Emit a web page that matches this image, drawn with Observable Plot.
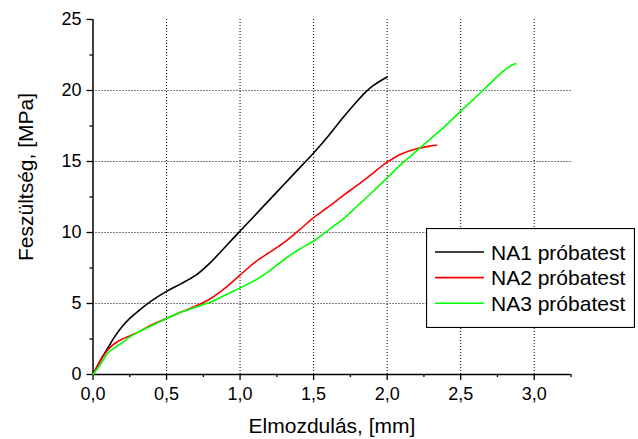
<!DOCTYPE html>
<html>
<head>
<meta charset="utf-8">
<script src="https://cdn.jsdelivr.net/npm/d3@7"></script>
<script src="https://cdn.jsdelivr.net/npm/@observablehq/plot@0.6"></script>
<style>
  html, body { margin: 0; padding: 0; background: #fff; }
  #wrap { position: relative; width: 638px; height: 439px; font-family: "Liberation Sans", Arial, sans-serif; }
  #legend { position: absolute; left: 426px; top: 228px; }
</style>
</head>
<body>
<div id="wrap"><div id="chart"></div><div id="legend"></div></div>
<script>
const seriesNames = ["NA1 próbatest", "NA2 próbatest", "NA3 próbatest"];
const seriesColors = ["#000000", "#ff0000", "#00ff00"];
const xTitle = "Elmozdulás, [mm]";
const yTitle = "Feszültség, [MPa]";
const xTicks = [0, 0.5, 1, 1.5, 2, 2.5, 3];
const xMinorTicks = [0.25, 0.75, 1.25, 1.75, 2.25, 2.75, 3.25];
const yTicks = [0, 5, 10, 15, 20, 25];
const yMinorTicks = [2.5, 7.5, 12.5, 17.5, 22.5];

const na1X = [0, 0.05, 0.1, 0.15, 0.2, 0.25, 0.3, 0.4, 0.5, 0.6, 0.7, 0.8, 0.9, 1.0, 1.1, 1.2, 1.3, 1.4, 1.5, 1.6, 1.7, 1.8, 1.85, 1.9, 1.95, 2.0];
const na1Y = [0, 1.0, 1.85, 2.7, 3.4, 3.95, 4.4, 5.2, 5.85, 6.4, 7.0, 7.9, 9.0, 10.1, 11.2, 12.3, 13.4, 14.5, 15.6, 16.8, 18.1, 19.3, 19.85, 20.3, 20.65, 20.95];

const na2X = [0, 0.05, 0.1, 0.15, 0.2, 0.25, 0.3, 0.4, 0.5, 0.6, 0.7, 0.8, 0.9, 1.0, 1.1, 1.2, 1.3, 1.4, 1.5, 1.6, 1.7, 1.8, 1.9, 2.0, 2.1, 2.2, 2.3, 2.335];
const na2Y = [0, 0.95, 1.72, 2.2, 2.5, 2.72, 2.95, 3.5, 3.95, 4.4, 4.82, 5.35, 6.1, 7.0, 7.9, 8.6, 9.3, 10.15, 11.05, 11.8, 12.6, 13.35, 14.15, 14.95, 15.55, 15.9, 16.1, 16.15];

const na3X = [0, 0.05, 0.1, 0.15, 0.2, 0.25, 0.3, 0.4, 0.5, 0.6, 0.7, 0.8, 0.9, 1.0, 1.1, 1.2, 1.3, 1.4, 1.5, 1.6, 1.7, 1.8, 1.9, 2.0, 2.1, 2.2, 2.3, 2.4, 2.5, 2.6, 2.7, 2.8, 2.85, 2.875];
const na3Y = [0, 0.7, 1.5, 1.9, 2.25, 2.65, 2.95, 3.45, 3.95, 4.4, 4.75, 5.1, 5.6, 6.1, 6.62, 7.3, 8.1, 8.8, 9.4, 10.17, 10.95, 11.9, 12.85, 13.85, 14.85, 15.75, 16.65, 17.55, 18.55, 19.5, 20.5, 21.45, 21.8, 21.88];

const data = [];
[[na1X, na1Y], [na2X, na2Y], [na3X, na3Y]].forEach(([xs, ys], i) => {
  xs.forEach((x, j) => data.push({series: seriesNames[i], x, y: ys[j]}));
});

const fmtX = d => d.toFixed(1).replace(".", ",");

const plot = Plot.plot({
  width: 638,
  height: 439,
  marginLeft: 92.5,
  marginRight: 67.5,
  marginTop: 19,
  marginBottom: 65,
  style: {fontFamily: "'Liberation Sans', Arial, sans-serif", fontSize: "18px", color: "#000", background: "#fff", overflow: "visible"},
  x: {domain: [0, 3.25]},
  y: {domain: [0, 25]},
  color: {domain: seriesNames, range: seriesColors},
  marks: [
    Plot.gridX(xTicks.filter(d => d > 0), {stroke: "#000", strokeOpacity: 1, strokeWidth: 1, strokeDasharray: "1,2"}),
    Plot.gridY(yTicks.filter(d => d > 0 && d < 25), {stroke: "#000", strokeOpacity: 1, strokeWidth: 1, strokeDasharray: "1,2"}),
    Plot.axisX(xTicks, {tickSize: 6, tickPadding: 7, tickFormat: fmtX, label: null, strokeWidth: 1.3, fontSize: 18}),
    Plot.axisX(xMinorTicks, {tickSize: 3, tickFormat: () => "", label: null, strokeWidth: 1.3}),
    Plot.axisY(yTicks, {tickSize: 6, tickPadding: 5.5, tickFormat: d => String(d), label: null, strokeWidth: 1.3, fontSize: 18}),
    Plot.axisY(yMinorTicks, {tickSize: 3, tickFormat: () => "", label: null, strokeWidth: 1.3}),
    Plot.ruleX([0], {stroke: "#000", strokeWidth: 1.5}),
    Plot.ruleY([0], {stroke: "#000", strokeWidth: 1.5}),
    Plot.line(data, {x: "x", y: "y", z: "series", stroke: "series", strokeWidth: 1.6, curve: "catmull-rom"}),
    Plot.text([xTitle], {text: d => d, frameAnchor: "bottom", lineAnchor: "middle", textAnchor: "middle", dy: 52, fontSize: 21, fill: "#000"}),
    Plot.text([yTitle], {text: d => d, frameAnchor: "left", lineAnchor: "middle", textAnchor: "middle", rotate: -90, dx: -66.5, dy: -20, fontSize: 21, fill: "#000"})
  ]
});
document.getElementById("chart").appendChild(plot);

// Legend box
const lw = 209, lh = 100;
const lsvg = d3.select("#legend").append("svg")
  .attr("width", lw).attr("height", lh)
  .style("display", "block");
lsvg.append("rect").attr("x", 0.5).attr("y", 0.5).attr("width", lw - 1).attr("height", lh - 1)
  .attr("fill", "#fff").attr("stroke", "#000").attr("stroke-width", 1.2);
const rowY = d3.scalePoint().domain(seriesNames).range([24, 75.3]);
const rows = lsvg.selectAll("g.row").data(seriesNames).join("g").attr("class", "row")
  .attr("transform", d => `translate(0,${rowY(d)})`);
rows.append("line").attr("x1", 9).attr("x2", 58).attr("y1", 0).attr("y2", 0)
  .attr("stroke", (d, i) => seriesColors[i]).attr("stroke-width", 1.6);
rows.append("text").attr("x", 65).attr("y", 0).attr("dy", "0.36em")
  .attr("font-family", "'Liberation Sans', Arial, sans-serif").attr("font-size", 21)
  .attr("fill", "#000").text(d => d);
</script>
</body>
</html>
